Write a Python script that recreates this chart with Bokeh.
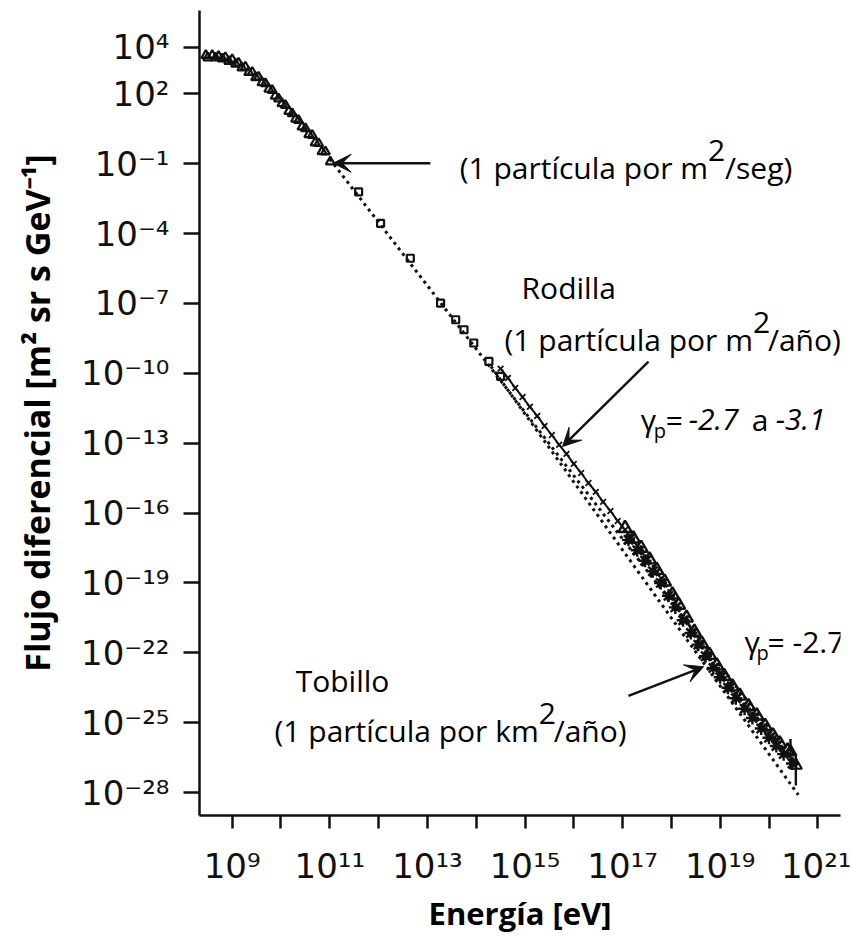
import numpy as np
from bokeh.plotting import figure
from bokeh.models import FixedTicker, Label, Arrow, VeeHead
from bokeh.embed import file_html
from bokeh.resources import INLINE

# ---------------- data (log10 of energy [eV] and of flux) ----------------
tri_a_log_e = [8.46, 8.59, 8.72, 8.86, 9.00, 9.13, 9.27, 9.41, 9.54, 9.68, 9.82, 9.95, 10.09, 10.23, 10.36, 10.50, 10.64, 10.77, 10.91, 11.01]
tri_a_log_f = [3.65, 3.65, 3.61, 3.56, 3.47, 3.32, 3.15, 2.93, 2.72, 2.44, 2.15, 1.79, 1.51, 1.15, 0.86, 0.51, 0.22, -0.13, -0.49, -0.92]
tri_b_log_e = [8.50, 8.66, 8.80, 8.93, 9.07, 9.20, 9.34, 9.48, 9.61, 9.75, 9.88, 10.02, 10.16, 10.30, 10.43, 10.57, 10.70, 10.84]
tri_b_log_f = [3.55, 3.55, 3.50, 3.40, 3.28, 3.12, 2.92, 2.70, 2.48, 2.20, 1.90, 1.58, 1.25, 0.92, 0.58, 0.25, -0.10, -0.48]

sq_log_e = [11.59, 12.04, 12.65, 13.27, 13.58, 13.75, 13.95, 14.26, 14.50]
sq_log_f = [-2.21, -3.56, -5.06, -6.99, -7.70, -8.13, -8.70, -9.49, -10.13]

knee_log_e = [14.50, 14.65, 14.80, 14.95, 15.10, 15.25, 15.40, 15.55, 15.70, 15.85, 16.00, 16.15, 16.30, 16.45, 16.60, 16.75, 16.90, 17.05, 17.20, 17.35]
knee_log_f = [-9.80, -10.20, -10.63, -11.02, -11.44, -11.83, -12.26, -12.65, -13.07, -13.46, -13.89, -14.28, -14.71, -15.09, -15.52, -15.91, -16.34, -16.72, -17.15, -17.55]

band_tri_log_e = [17.05, 17.22, 17.38, 17.55, 17.70, 17.86, 18.02, 18.15, 18.31, 18.47, 18.62, 18.78, 18.93, 19.08, 19.25, 19.40, 19.58, 19.75, 19.92, 20.08, 20.22, 20.38]
band_tri_log_f = [-16.65, -17.10, -17.50, -18.00, -18.45, -18.95, -19.50, -19.95, -20.50, -21.10, -21.60, -22.10, -22.55, -23.00, -23.45, -23.85, -24.30, -24.70, -25.15, -25.55, -25.90, -26.20]
band_ast_log_e = [17.12, 17.30, 17.46, 17.62, 17.78, 17.94, 18.08, 18.24, 18.40, 18.55, 18.70, 18.86, 19.00, 19.16, 19.32, 19.50, 19.66, 19.84, 20.00, 20.15, 20.30, 20.48]
band_ast_log_f = [-17.15, -17.60, -18.05, -18.50, -19.00, -19.55, -20.05, -20.60, -21.15, -21.65, -22.15, -22.65, -23.05, -23.50, -23.95, -24.40, -24.80, -25.25, -25.65, -26.00, -26.35, -26.75]
band_x_log_e = [17.15, 17.35, 17.50, 17.68, 17.83, 18.00, 18.12, 18.28, 18.44, 18.58, 18.74, 18.90, 19.04, 19.20, 19.36, 19.54, 19.70, 19.88, 20.04, 20.18, 20.34]
band_x_log_f = [-17.10, -17.60, -18.00, -18.55, -19.00, -19.60, -20.00, -20.60, -21.15, -21.65, -22.15, -22.60, -23.00, -23.50, -23.90, -24.35, -24.75, -25.20, -25.60, -25.95, -26.30]

err_log_e = [20.44, 20.55]
err_log_lo = [-26.70, -27.70]
err_log_hi = [-25.70, -26.40]
err_log_mid = [-26.26, -26.83]

fit27_log_e = [11.0, 20.6]
fit27_log_f = [-0.8, -26.9]
fit31_log_e = [14.3, 20.6]
fit31_log_f = [-9.7, -28.1]

x_tick_exponents = [9, 10, 11, 12, 13, 14, 15, 16, 17, 18, 19, 20, 21]
x_tick_labels = ["10⁹", "", "10¹¹", "", "10¹³", "", "10¹⁵", "", "10¹⁷", "", "10¹⁹", "", "10²¹"]
y_tick_exponents = [4, 2, -1, -4, -7, -10, -13, -16, -19, -22, -25, -28]
y_tick_labels = ["10⁴", "10²", "10⁻¹", "10⁻⁴", "10⁻⁷", "10⁻¹⁰", "10⁻¹³", "10⁻¹⁶", "10⁻¹⁹", "10⁻²²", "10⁻²⁵", "10⁻²⁸"]


def P(a):
    return 10.0 ** np.asarray(a, dtype=float)


INK = "#111111"
TXT = "Open Sans"
TICKF = "DejaVu Sans"

X0, X1 = 10 ** 8.33, 10 ** 21.465
Y0, Y1 = 10 ** -28.985, 10 ** 5.576

p = figure(width=851, height=936, x_axis_type="log", y_axis_type="log",
           x_range=(X0, X1), y_range=(Y0, Y1),
           output_backend="svg", toolbar_location=None,
           min_border_left=199, min_border_right=11, min_border_top=10, min_border_bottom=119)
p.outline_line_color = None
p.xgrid.visible = False
p.ygrid.visible = False
p.background_fill_color = "white"
p.border_fill_color = "white"

xt = [10.0 ** e for e in x_tick_exponents]
yt = [10.0 ** e for e in y_tick_exponents]
p.xaxis.ticker = FixedTicker(ticks=xt)
p.yaxis.ticker = FixedTicker(ticks=yt)
p.xaxis.major_label_overrides = {t: s for t, s in zip(xt, x_tick_labels)}
p.yaxis.major_label_overrides = {t: s for t, s in zip(yt, y_tick_labels)}

for ax in (p.xaxis[0], p.yaxis[0]):
    ax.axis_line_color = INK
    ax.axis_line_width = 2.5
    ax.major_tick_line_color = INK
    ax.major_tick_line_width = 2.5
    ax.major_tick_in = 0
    ax.minor_tick_line_color = None
    ax.major_label_text_font = TICKF
    ax.major_label_text_font_size = "34px"
    ax.major_label_text_color = INK
    ax.axis_label_text_font = TXT
    ax.axis_label_text_font_style = "bold"
    ax.axis_label_text_color = "black"

p.xaxis.major_tick_out = 13
p.yaxis.major_tick_out = 16
p.xaxis.major_label_standoff = 17
p.yaxis.major_label_standoff = 14
p.xaxis.axis_label = "Energía [eV]"
p.yaxis.axis_label = "Flujo diferencial [m² sr s GeV⁻¹]"
p.xaxis.axis_label_text_font_size = "31px"
p.yaxis.axis_label_text_font_size = "34px"
p.xaxis.axis_label_standoff = 3
p.yaxis.axis_label_standoff = 18

# ---------------- series ----------------
p.line(P(fit27_log_e), P(fit27_log_f), line_color=INK, line_width=3, line_dash="3 4")
p.line(P(fit31_log_e), P(fit31_log_f), line_color=INK, line_width=3, line_dash="3 4")

p.scatter(P(tri_a_log_e), P(tri_a_log_f), marker="triangle", size=9, fill_color=None, line_color=INK, line_width=2.2)
p.scatter(P(tri_b_log_e), P(tri_b_log_f), marker="triangle", size=9, fill_color=None, line_color=INK, line_width=2.2)
p.scatter(P(sq_log_e), P(sq_log_f), marker="square", size=7, fill_color=None, line_color=INK, line_width=2.2)

p.line(P(knee_log_e), P(knee_log_f), line_color=INK, line_width=2)
p.scatter(P(knee_log_e), P(knee_log_f), marker="x", size=8, line_color=INK, line_width=1.8)

p.scatter(P(band_tri_log_e), P(band_tri_log_f), marker="triangle", size=13, fill_color=None, line_color=INK, line_width=2.4)
p.scatter(P(band_ast_log_e), P(band_ast_log_f), marker="asterisk", size=13, line_color=INK, line_width=2.4)
p.scatter(P(band_x_log_e), P(band_x_log_f), marker="x", size=12, line_color=INK, line_width=2.4)
p.segment(P(err_log_e), P(err_log_lo), P(err_log_e), P(err_log_hi), line_color=INK, line_width=2.4)
p.scatter(P(err_log_e), P(err_log_mid), marker="triangle", size=12, fill_color=None, line_color=INK, line_width=2.2)

# ---------------- annotations ----------------
def lab(xl, yl, text, dx=0, dy=0, size="30px", align="left", style="normal"):
    p.add_layout(Label(x=10.0 ** xl, y=10.0 ** yl, text=text, x_offset=dx, y_offset=dy,
                       text_font=TXT, text_font_size=size, text_align=align,
                       text_baseline="alphabetic", text_font_style=style, text_color="black"))


def sup_line(xl, yl, left, right, gap=17):
    lab(xl, yl, left, align="right")
    lab(xl, yl, "2", dy=17)
    lab(xl, yl, right, dx=gap)


sup_line(18.75, -1.15, "(1 partícula por m", "/seg)")
lab(14.93, -6.33, "Rodilla")
sup_line(19.67, -8.56, "(1 partícula por m", "/año)", gap=15)
lab(10.30, -23.19, "Tobillo")
sup_line(15.28, -25.33, "(1 partícula por km", "/año)", gap=15)

# gamma_p = -2.7 a -3.1
lab(17.37, -11.98, "γ")
lab(17.37, -11.98, "p", dx=13, dy=-11, size="20px")
lab(17.37, -11.98, "=", dx=25)
lab(17.37, -11.98, "-2.7", dx=48, style="italic")
lab(17.37, -11.98, "a", dx=111)
lab(17.37, -11.98, "-3.1", dx=135, style="italic")
# gamma_p = -2.7
lab(19.50, -21.53, "γ")
lab(19.50, -21.53, "p", dx=12, dy=-11, size="20px")
lab(19.50, -21.53, "= -2.7", dx=23)

for (x0, y0, x1, y1) in [(13.06, -0.98, 11.07, -0.98), (17.53, -9.50, 15.77, -13.14), (17.12, -23.85, 18.66, -22.60)]:
    p.add_layout(Arrow(x_start=10.0 ** x0, y_start=10.0 ** y0, x_end=10.0 ** x1, y_end=10.0 ** y1,
                       line_color=INK, line_width=2.4,
                       end=VeeHead(size=18, fill_color=INK, line_color=INK, line_width=1)))

open("out.html", "w").write(file_html(p, INLINE))
